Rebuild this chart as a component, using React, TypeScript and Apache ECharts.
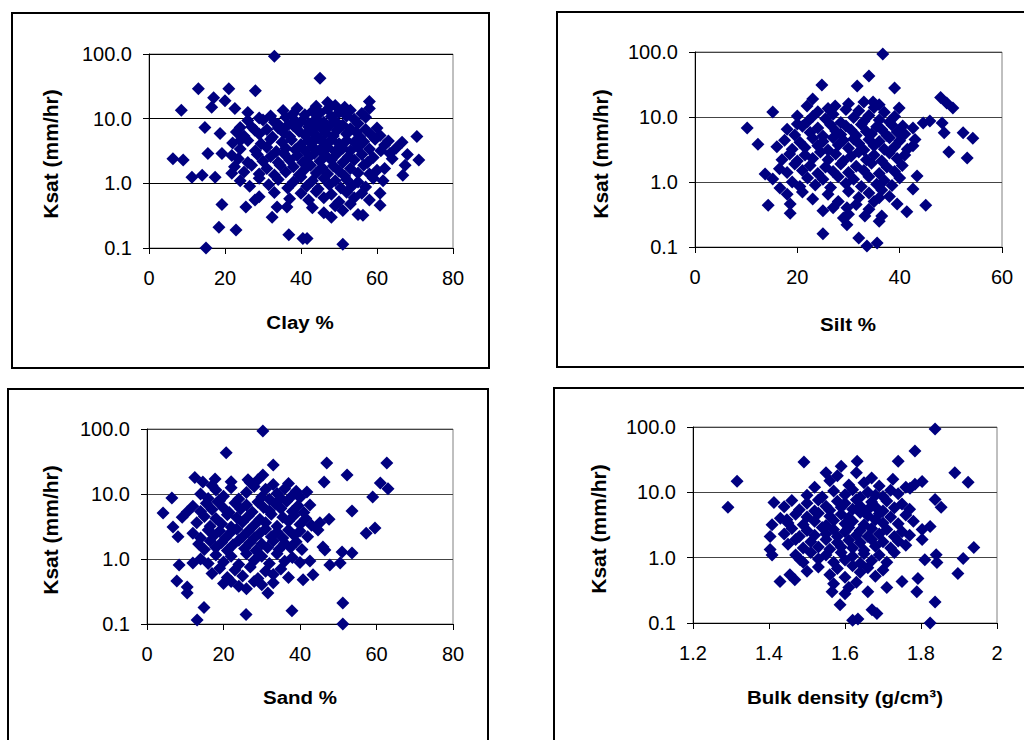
import React, { useEffect, useRef } from "react";
import * as echarts from "echarts";

// ---- Data ----
// Panel 1: Clay % vs Ksat (mm/hr)
const clayPoints: number[][] = [
  [33, 92], [13, 29], [21, 29], [28, 27], [8.5, 13.5], [17, 21], [16.5, 15], [20, 19], [22.6, 14.4], [26, 12.5],
  [35.3, 13.4], [38.4, 9.4], [14.7, 7.3], [18.7, 5.9], [24, 7.3], [27.9, 6.6], [24, 4.6], [6.3, 2.4], [9, 2.3],
  [11.3, 1.24], [14, 1.33], [17.4, 1.24], [15.5, 2.9], [19.2, 2.9], [21.8, 2.7], [21.8, 1.43], [19.2, 0.47],
  [18.4, 0.21], [22.9, 0.19], [15, 0.1], [25.5, 0.43], [27.9, 0.55], [32.4, 0.3], [33.7, 0.43], [36.3, 0.43],
  [36.8, 0.16], [40.5, 0.14], [45, 42], [58, 18.5], [58, 14.4], [47, 17.8], [70.5, 5.3], [66.6, 4.3], [71, 2.3],
  [67.4, 1.9], [66.8, 1.33], [60.8, 5.5], [62, 3.9], [63.4, 2.9], [62, 1.7], [61.6, 1.1], [60.8, 0.7], [60.8, 0.46],
  [56.3, 0.32], [41.6, 0.14], [51, 0.114],
  [30, 9.5], [32, 11], [34, 8.2], [36, 10.5], [38, 12], [40, 9], [41, 11.5], [42, 8.5], [43, 13], [44, 10],
  [45, 12.2], [46, 8.8], [47, 14], [48, 10.8], [49, 9.2], [50, 12.5], [51, 8], [52, 11], [53, 13.5], [54, 9.8],
  [55, 8.4], [56, 12], [51.5, 15], [49, 16], [44, 15.5], [39, 14.5], [33, 8.8], [29, 10.2], [26, 9.4], [57, 10.5],
  [23, 6.2], [25, 5.4], [27, 7.5], [29, 5.8], [31, 6.8], [32.5, 5.2], [34, 7.2], [35.5, 6], [37, 5.3], [38, 7.8],
  [39.5, 6.4], [41, 5.6], [42, 7.4], [43, 6.2], [44.5, 5.1], [45.5, 7], [46.5, 6], [47.5, 7.8], [48.5, 5.4],
  [49.5, 6.6], [50.5, 7.5], [52, 5.8], [53, 7], [54.5, 6.2], [55.5, 5.2], [57, 6.8], [58.5, 5.6], [60, 7.2],
  [36.5, 7.9], [44, 7.7],
  [22, 4.2], [24, 3.4], [26, 4.6], [28, 3.2], [29.5, 4.1], [31, 3.6], [32, 4.8], [33.5, 3.1], [35, 4.3], [36, 3.5],
  [37.5, 4.7], [38.5, 3.3], [40, 4], [41, 3.2], [42, 4.6], [43, 3.7], [44, 4.9], [45, 3.3], [46, 4.2], [47, 3.6],
  [48, 4.7], [49, 3.1], [50, 4.1], [51, 3.5], [52, 4.6], [53, 3.2], [54, 4.3], [55, 3.6], [56.5, 4.4], [58, 3.4],
  [59.5, 4.8], [61, 3.2], [63, 4.5], [65, 3.5],
  [23.5, 2.4], [26, 2.1], [28.5, 2.8], [30, 2.2], [32, 2.6], [34, 2.1], [35.5, 2.9], [37, 2.3], [39, 2.7],
  [40.5, 2.1], [42, 2.5], [43.5, 2.9], [45, 2.2], [46.5, 2.7], [48, 2.3], [49.5, 2.9], [51, 2.1], [52.5, 2.6],
  [54, 2.3], [56, 2.8], [57.5, 2.1], [59, 2.5], [64, 2.4], [68, 2.8],
  [22.5, 1.8], [25, 1.5], [27, 1.9], [29, 1.4], [31, 1.7], [33, 1.35], [34.5, 1.9], [36, 1.5], [38, 1.8],
  [39.5, 1.35], [41, 1.65], [42.5, 1.9], [44, 1.45], [45.5, 1.75], [47, 1.4], [48.5, 1.85], [50, 1.55],
  [51.5, 1.3], [53, 1.7], [55, 1.45], [56.5, 1.9], [58, 1.4], [60, 1.6],
  [24, 1.1], [26.5, 0.9], [29, 1.2], [31.5, 0.95], [34, 1.15], [36.5, 0.85], [38, 1.05], [40, 1.25], [41.5, 0.9],
  [43, 1.1], [44.5, 0.82], [46, 1.2], [47.5, 0.95], [49, 1.1], [50.5, 0.85], [52, 1.15], [53.5, 0.92], [55, 1.05],
  [57, 0.88], [59, 1.2],
  [29, 0.62], [33, 0.72], [37, 0.58], [40, 0.7], [42, 0.55], [44, 0.75], [46, 0.6], [48, 0.68], [50, 0.52],
  [52, 0.73], [54, 0.6], [56, 0.7], [58, 0.55],
  [43, 0.42], [46, 0.35], [49, 0.45], [51, 0.38], [53, 0.48], [55, 0.33], [48, 0.3],
];

// Panel 2: Silt % vs Ksat
const siltPoints: number[][] = [
  [24.8, 31], [15.2, 11.9], [10.2, 6.8], [12.3, 3.8], [14.3, 0.44], [18.6, 0.46], [18.6, 0.33], [25, 0.16],
  [29.7, 0.22], [23, 19], [21.9, 14.7], [27.4, 14.7], [20, 10.4], [13.7, 1.33], [15.2, 1.11], [16.6, 0.81],
  [18, 0.65], [25, 0.36], [29.7, 0.4], [36.7, 93], [34, 42.6], [31.7, 30], [39, 28], [34.8, 17], [39.9, 13.8],
  [48, 20], [49.2, 16.4], [50.4, 13.8], [40.6, 7.3], [42.6, 6.8], [44.6, 8.1], [45.9, 8.7], [48.3, 8.1],
  [48.7, 5.7], [52.4, 5.7], [54.3, 4.7], [42.6, 3.6], [49.6, 2.9], [53.2, 2.34], [43.4, 1.24], [42.6, 0.78],
  [45.1, 0.44], [41.4, 0.35], [36.5, 0.3], [33.2, 0.3], [32, 0.137], [33.6, 0.104], [35.6, 0.115], [39.5, 0.46],
  [36, 0.57],
  [22, 8.5], [24, 12], [25.5, 9.4], [27, 11], [28.5, 8.2], [29.5, 13], [31, 9.8], [32, 12.5], [33, 8.6],
  [34, 10.5], [35, 14], [36, 9], [37, 11.8], [38, 8.4], [39, 10.2], [26, 13.5], [30, 16], [33, 17], [36, 15.5],
  [23, 10.2],
  [18, 6.5], [19.5, 5.3], [21, 7.2], [22.5, 5.8], [24, 6.8], [25, 5.1], [26.5, 7.6], [27.5, 6.1], [28.5, 5.4],
  [29.5, 7.3], [30.5, 6.3], [31.5, 5.2], [32.5, 7.7], [33.5, 6], [34.5, 5.5], [35.5, 7.1], [36.5, 6.4],
  [37.5, 5.2], [38.5, 7.5], [39.5, 5.9], [41, 5.5], [20, 7.8],
  [16, 3.5], [17.5, 4.4], [19, 3.2], [20.5, 4.1], [21.5, 3.4], [23, 4.7], [24, 3.6], [25, 4.2], [26, 3.1],
  [27, 4.8], [28, 3.7], [29, 4.4], [30, 3.3], [31, 4.6], [32, 3.9], [33, 3.1], [34, 4.5], [35, 3.6], [36, 4.2],
  [37, 3.2], [38, 4.8], [39, 3.5], [40, 4.3], [41.5, 3.2], [43, 4.5],
  [17, 2.2], [18.5, 2.7], [20, 2.1], [21.5, 2.6], [23, 2.3], [24.5, 2.9], [26, 2.2], [27.5, 2.7], [29, 2.1],
  [30.5, 2.5], [32, 2.9], [33.5, 2.2], [35, 2.6], [36.5, 2.1], [38, 2.8], [39.5, 2.3], [41, 2.6],
  [16.5, 1.6], [18, 1.4], [19.5, 1.9], [21, 1.5], [22.5, 1.8], [24, 1.35], [25.5, 1.7], [27, 1.45], [28.5, 1.9],
  [30, 1.4], [31.5, 1.75], [33, 1.5], [34.5, 1.95], [36, 1.35], [37.5, 1.7], [39, 1.45], [40.5, 1.8],
  [19, 1.0], [20.5, 0.85], [22, 1.15], [23.5, 0.9], [25, 1.1], [26.5, 0.82], [28, 1.2], [29.5, 0.95], [31, 1.1],
  [32.5, 0.85], [34, 1.2], [35.5, 0.92], [37, 1.05], [38.5, 0.88], [40, 1.15],
  [21, 0.7], [23, 0.55], [26, 0.65], [28, 0.5], [30, 0.72], [32, 0.58], [34, 0.68], [35, 0.5], [36.5, 0.75],
  [38, 0.6],
  [27, 0.4], [30, 0.32], [31.5, 0.45], [34, 0.38], [36, 0.25], [29, 0.28],
];

// Panel 3: Sand % vs Ksat
const sandPoints: number[][] = [
  [30.3, 93], [20.7, 43], [33, 28], [12.5, 18], [14.6, 15.3], [17.8, 17], [6.5, 8.7], [4.2, 5.1], [9.2, 4.4],
  [10.5, 5.3], [6.8, 3.1], [8.1, 2.2], [8.4, 0.81], [7.8, 0.46], [10.5, 0.37], [10.5, 0.3], [12, 0.87],
  [14.9, 0.18], [13.1, 0.115], [25.9, 0.14], [37.9, 0.16], [31.6, 0.3], [33, 0.43], [26.4, 16.5], [30.3, 19.6],
  [47, 30], [62.7, 30], [52.3, 19.6], [46.3, 15.3], [61, 14.7], [63, 12], [59, 9], [53.6, 5.5], [57.3, 2.5],
  [59.6, 3], [51, 1.28], [53.6, 1.24], [47.6, 4.1], [51.2, 0.21], [51.2, 0.1], [43.4, 0.57], [47.8, 0.81],
  [50.5, 0.87], [40.8, 0.48], [42.6, 0.93], [46.5, 1.37], [46, 1.53], [44.7, 2.8], [45.2, 3.6], [42.6, 6.8],
  [41.8, 10.7],
  [14, 10], [16, 8.5], [18, 11.5], [20, 9.2], [22, 12.5], [24, 8.4], [26, 10.5], [28, 13], [30, 9], [31, 11.8],
  [32, 8.3], [33, 14], [34, 10.2], [35, 8.6], [36, 12], [38, 9.5], [39, 11], [40, 8.8], [27, 15], [29, 16.5],
  [22, 15.5], [17, 13.5], [37, 14.5],
  [12, 6.5], [14, 5.4], [15.5, 7.2], [17, 5.8], [18.5, 7.6], [20, 6.1], [21.5, 5.2], [23, 7.3], [24.5, 5.9],
  [26, 6.8], [27.5, 5.3], [29, 7.5], [30.5, 6.2], [32, 5.5], [33.5, 7.1], [35, 6.0], [36.5, 7.7], [38, 5.4],
  [39.5, 6.6], [41, 5.2], [19, 7.9],
  [13, 3.6], [15, 4.5], [16.5, 3.2], [18, 4.2], [19.5, 3.5], [21, 4.8], [22, 3.1], [23.5, 4.3], [25, 3.7],
  [26.5, 4.6], [28, 3.3], [29.5, 4.1], [31, 3.6], [32.5, 4.9], [34, 3.2], [35.5, 4.4], [37, 3.8], [38.5, 4.7],
  [40, 3.4], [41.5, 4.2], [43, 3.3],
  [12, 2.5], [14, 2.1], [16, 2.8], [17.5, 2.3], [19, 2.7], [20.5, 2.1], [22, 2.6], [23.5, 2.9], [25, 2.2],
  [26.5, 2.7], [28, 2.1], [29.5, 2.5], [31, 2.9], [32.5, 2.2], [34, 2.6], [35.5, 2.1], [37, 2.8], [38.5, 2.3],
  [40, 2.7], [42, 2.2],
  [13.5, 1.7], [15, 1.4], [16.5, 1.9], [18, 1.5], [19.5, 1.8], [21, 1.35], [22.5, 1.65], [24, 1.95], [25.5, 1.45],
  [27, 1.8], [28.5, 1.35], [30, 1.7], [31.5, 1.5], [33, 1.9], [34.5, 1.4], [36, 1.75], [37.5, 1.5], [39, 1.85],
  [40.5, 1.4],
  [14, 1.0], [16, 0.85], [18, 1.15], [20, 0.9], [22, 1.1], [24, 0.82], [26, 1.2], [28, 0.95], [30, 1.1],
  [32, 0.85], [34, 1.2], [36, 0.92], [38, 1.05], [40, 0.88],
  [17, 0.6], [19, 0.72], [21, 0.52], [23, 0.68], [25, 0.55], [27, 0.75], [29, 0.5], [31, 0.65], [33, 0.58],
  [35, 0.7], [37, 0.52],
  [20, 0.42], [24, 0.38], [28, 0.45], [26, 0.35], [30, 0.4], [22, 0.45],
];

// Panel 4: Bulk density (g/cm3) vs Ksat
const bulkPoints: number[][] = [
  [1.316, 14.8], [1.292, 5.9], [1.492, 29], [1.413, 7], [1.447, 3.8], [1.408, 3.2], [1.403, 2.1], [1.403, 1.33],
  [1.408, 1.1], [1.429, 0.43], [1.455, 0.55], [1.468, 0.46], [1.482, 0.93], [1.587, 0.19], [1.566, 0.3],
  [1.62, 0.11], [1.837, 93], [1.784, 43], [1.74, 30], [1.632, 30], [1.889, 20], [1.924, 14.3], [1.803, 14.7],
  [1.784, 13.3], [1.771, 11.5], [1.726, 15.8], [1.837, 7.8], [1.853, 5.9], [1.824, 3], [1.803, 2.7],
  [1.803, 1.9], [1.939, 1.43], [1.84, 1.11], [1.842, 0.84], [1.81, 0.93], [1.911, 0.97], [1.897, 0.57],
  [1.792, 0.48], [1.789, 0.3], [1.75, 0.43], [1.71, 0.35], [1.837, 0.21], [1.824, 0.1], [1.671, 0.16],
  [1.684, 0.14], [1.634, 0.115],
  [1.5, 9], [1.52, 12], [1.54, 8.5], [1.56, 15], [1.57, 10.5], [1.58, 18], [1.6, 9.2], [1.61, 13], [1.62, 11],
  [1.63, 20], [1.64, 8.4], [1.65, 14], [1.66, 10], [1.67, 16.5], [1.68, 9], [1.69, 12.5], [1.7, 8.6],
  [1.72, 10.8], [1.74, 9.5], [1.76, 12], [1.55, 20], [1.59, 25],
  [1.44, 6], [1.46, 7.5], [1.48, 5.4], [1.5, 6.8], [1.52, 5.2], [1.53, 7.6], [1.55, 6.1], [1.56, 5.3],
  [1.58, 7.3], [1.59, 5.9], [1.6, 6.8], [1.62, 5.5], [1.63, 7.7], [1.64, 6.2], [1.66, 5.4], [1.67, 7.1],
  [1.68, 6], [1.7, 5.2], [1.71, 7.4], [1.73, 5.8], [1.75, 6.6], [1.77, 5.5],
  [1.43, 4], [1.45, 3.4], [1.47, 4.6], [1.49, 3.2], [1.5, 4.2], [1.52, 3.6], [1.53, 4.8], [1.55, 3.1],
  [1.56, 4.3], [1.57, 3.7], [1.59, 4.6], [1.6, 3.3], [1.61, 4.1], [1.62, 3.6], [1.64, 4.9], [1.65, 3.2],
  [1.66, 4.4], [1.68, 3.8], [1.69, 4.7], [1.7, 3.4], [1.72, 4.2], [1.74, 3.3], [1.76, 4.5], [1.78, 3.6],
  [1.44, 2.3], [1.46, 2.8], [1.48, 2.1], [1.5, 2.6], [1.52, 2.2], [1.54, 2.9], [1.55, 2.3], [1.57, 2.7],
  [1.58, 2.1], [1.6, 2.5], [1.61, 2.9], [1.63, 2.2], [1.64, 2.6], [1.66, 2.1], [1.67, 2.8], [1.69, 2.3],
  [1.71, 2.7], [1.73, 2.1], [1.75, 2.5], [1.77, 2.2],
  [1.45, 1.6], [1.47, 1.9], [1.49, 1.4], [1.51, 1.75], [1.53, 1.45], [1.55, 1.9], [1.56, 1.35], [1.58, 1.7],
  [1.59, 1.45], [1.61, 1.85], [1.62, 1.4], [1.64, 1.7], [1.65, 1.3], [1.67, 1.9], [1.68, 1.5], [1.7, 1.75],
  [1.72, 1.4], [1.74, 1.8], [1.76, 1.55],
  [1.47, 1.1], [1.49, 0.85], [1.51, 1.2], [1.53, 0.95], [1.55, 1.1], [1.57, 0.85], [1.59, 1.2], [1.6, 0.92],
  [1.62, 1.05], [1.64, 0.82], [1.65, 1.15], [1.67, 0.9], [1.69, 1.1], [1.71, 0.85], [1.73, 1.2],
  [1.5, 0.62], [1.53, 0.72], [1.56, 0.55], [1.58, 0.68], [1.6, 0.5], [1.62, 0.75], [1.64, 0.6], [1.66, 0.7],
  [1.68, 0.52], [1.7, 0.65],
  [1.57, 0.4], [1.61, 0.35], [1.63, 0.42], [1.66, 0.3], [1.6, 0.28],
];

const xTitles = ["Clay %", "Silt %", "Sand %", "Bulk density (g/cm\u00b3)"];
const yTitle = "Ksat (mm/hr)";
const xRanges = [
  [0, 80, 20],
  [0, 60, 20],
  [0, 80, 20],
  [1.2, 2.0, 0.2],
];
const yRange = [0.1, 100];

// ---- Layout ----
const grids = [
  { left: 149, top: 54, width: 304, height: 194 },
  { left: 695, top: 52, width: 307, height: 195 },
  { left: 147, top: 429, width: 306, height: 195 },
  { left: 693, top: 427, width: 304, height: 196 },
];
const boxes = [
  { x: 12, y: 13, width: 477, height: 355 },
  { x: 557, y: 12, width: 500, height: 355 },
  { x: 8, y: 389, width: 480, height: 400 },
  { x: 554, y: 388, width: 500, height: 400 },
];
const yTitlePos = [
  [50, 154],
  [600, 154],
  [50, 530],
  [598, 529],
];
const xTitlePos = [
  [300, 322],
  [848, 324],
  [300, 697],
  [845, 697],
];

const FONT = '"Liberation Sans", Arial, Helvetica, sans-serif';

export default function App() {
  const ref = useRef<HTMLDivElement>(null);
  useEffect(() => {
    if (!ref.current) return;
    const chart = echarts.init(ref.current, undefined, { renderer: "svg" });
    const datasets = [clayPoints, siltPoints, sandPoints, bulkPoints];

    const option: any = {
      animation: false,
      backgroundColor: "#ffffff",
      grid: grids.map((g) => ({
        ...g,
        show: true,
        borderColor: "#808080",
        borderWidth: 1,
        backgroundColor: "transparent",
        containLabel: false,
        outerBoundsMode: "none",
      })),
      xAxis: xRanges.map((r, i) => ({
        gridIndex: i,
        type: "value",
        min: r[0],
        max: r[1],
        interval: r[2],
        axisLine: { show: true, onZero: false, lineStyle: { color: "#000", width: 1 } },
        axisTick: { show: true, inside: false, length: 6, lineStyle: { color: "#000", width: 1 } },
        axisLabel: {
          color: "#000",
          fontSize: 20,
          fontFamily: FONT,
          margin: 20,
          formatter: (v: number) => String(parseFloat(v.toFixed(1))),
        },
        splitLine: { show: false },
      })),
      yAxis: grids.map((_, i) => ({
        gridIndex: i,
        type: "log",
        logBase: 10,
        min: yRange[0],
        max: yRange[1],
        axisLine: { show: true, onZero: false, lineStyle: { color: "#000", width: 1 } },
        axisTick: { show: true, inside: false, length: 6, lineStyle: { color: "#000", width: 1 } },
        minorTick: { show: false },
        axisLabel: {
          color: "#000",
          fontSize: 20,
          fontFamily: FONT,
          margin: 17,
          formatter: (v: number) => Number(v).toFixed(1),
        },
        splitLine: { show: true, lineStyle: { color: i === 0 ? "#000" : "#444", width: 1 } },
      })),
      series: datasets.map((d, i) => ({
        type: "scatter",
        xAxisIndex: i,
        yAxisIndex: i,
        data: d,
        symbol: "diamond",
        symbolSize: 13,
        clip: false,
        itemStyle: { color: "#000080", opacity: 1 },
        emphasis: { disabled: true },
      })),
      graphic: [
        ...boxes.map((b) => ({
          type: "rect",
          shape: { x: b.x, y: b.y, width: b.width, height: b.height },
          style: { fill: "none", stroke: "#000", lineWidth: 2 },
          silent: true,
          z: 0,
        })),
        ...yTitlePos.map((p) => ({
          type: "text",
          x: p[0],
          y: p[1],
          rotation: Math.PI / 2,
          style: {
            text: yTitle,
            font: `bold 21px ${FONT}`,
            fill: "#000",
            align: "center",
            verticalAlign: "middle",
            textAlign: "center",
            textVerticalAlign: "middle",
          },
          silent: true,
        })),
        ...xTitlePos.map((p, i) => ({
          type: "text",
          x: p[0],
          y: p[1],
          scaleX: 1.08,
          style: {
            text: xTitles[i],
            font: `bold 19px ${FONT}`,
            fill: "#000",
            align: "center",
            verticalAlign: "middle",
            textAlign: "center",
            textVerticalAlign: "middle",
          },
          silent: true,
        })),
      ],
    };
    chart.setOption(option);
    return () => chart.dispose();
  }, []);

  return (
    <div
      ref={ref}
      style={{ position: "absolute", left: 0, top: 0, width: 1024, height: 740, background: "#fff" }}
    />
  );
}
